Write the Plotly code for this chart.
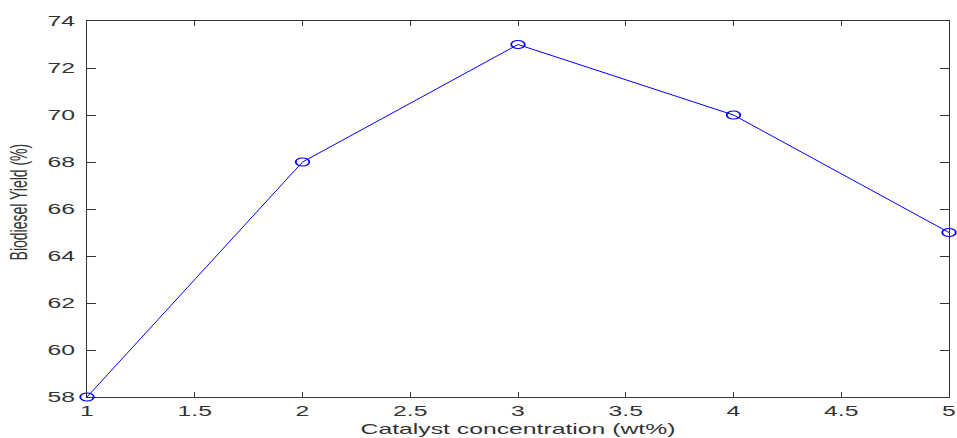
import plotly.graph_objects as go

# Catalyst loading vs. biodiesel yield
catalyst_wt = [1, 2, 3, 4, 5]
yield_pct = [58, 68, 73, 70, 65]

x_ticks = [1, 1.5, 2, 2.5, 3, 3.5, 4, 4.5, 5]
y_ticks = [58, 60, 62, 64, 66, 68, 70, 72, 74]

AXIS_COLOR = "#333333"
FONT_FAMILY = "Liberation Sans, Arial, sans-serif"

fig = go.Figure(
    go.Scatter(
        x=catalyst_wt,
        y=yield_pct,
        mode="lines+markers",
        line=dict(color="#0000FF", width=1),
        marker=dict(symbol="circle-open", size=8, color="#0000FF", line=dict(width=1.1)),
        cliponaxis=False,
    )
)

fig.update_layout(
    width=957,
    height=438,
    margin=dict(l=87, r=8, t=21, b=41, autoexpand=False),
    paper_bgcolor="white",
    plot_bgcolor="white",
    showlegend=False,
    font=dict(family=FONT_FAMILY, size=15, color=AXIS_COLOR),
)

fig.update_xaxes(
    range=[1, 5],
    tickvals=x_ticks,
    ticktext=[f"{v:g}" for v in x_ticks],
    ticks="inside",
    ticklen=5,
    tickcolor=AXIS_COLOR,
    showline=True,
    linecolor=AXIS_COLOR,
    linewidth=1,
    mirror="ticks",
    showgrid=False,
    zeroline=False,
    automargin=False,
    title=dict(text="Catalyst concentration (wt%)", font=dict(size=15), standoff=5),
    tickfont=dict(size=15),
)

fig.update_yaxes(
    range=[58, 74],
    tickvals=y_ticks,
    ticktext=[str(v) for v in y_ticks],
    ticks="inside",
    ticklen=9,
    tickcolor=AXIS_COLOR,
    showline=True,
    linecolor=AXIS_COLOR,
    linewidth=1,
    mirror="ticks",
    showgrid=False,
    zeroline=False,
    automargin=False,
    ticklabelstandoff=8,
    tickfont=dict(size=15),
)

# Y-axis title, placed slightly above the vertical middle of the axis
fig.add_annotation(
    text="Biodiesel Yield (%)",
    textangle=-90,
    xref="paper", yref="paper",
    x=-0.0789, y=0.52,
    xanchor="center", yanchor="middle",
    showarrow=False,
    font=dict(size=14, color=AXIS_COLOR),
)

# Widen the text and markers horizontally (wide-aspect rendering of the figure)
stretch_js = """
var gd = document.getElementById('{plot_id}');
var SX = 1.65;
var svg = gd.querySelector('.main-svg');
function toParent(el, x, y) {
  var p = svg.createSVGPoint();
  p.x = x; p.y = y;
  return p.matrixTransform(el.parentNode.getScreenCTM().inverse());
}
gd.querySelectorAll('.xtick text, .ytick text, .g-xtitle text').forEach(function (t) {
  var r = t.getBoundingClientRect();
  var ax = t.closest('.ytick') ? r.right : r.left + r.width / 2;
  var ay = r.top + r.height / 2;
  var p = toParent(t, ax, ay);
  var prev = t.getAttribute('transform') || '';
  t.setAttribute('transform',
    'translate(' + p.x + ',' + p.y + ') scale(' + SX + ',1) translate(' + (-p.x) + ',' + (-p.y) + ') ' + prev);
});
// rotated annotation: screen-x corresponds to the text's local y direction
gd.querySelectorAll('.annotation-text').forEach(function (t) {
  var bb = t.getBBox();
  var cx = bb.x + bb.width / 2, cy = bb.y + bb.height / 2;
  var prev = t.getAttribute('transform') || '';
  t.setAttribute('transform',
    prev + ' translate(' + cx + ',' + cy + ') scale(1,' + SX + ') translate(' + (-cx) + ',' + (-cy) + ')');
});
gd.querySelectorAll('.scatterlayer path.point').forEach(function (m) {
  var prev = m.getAttribute('transform') || '';
  m.setAttribute('transform', prev + ' scale(1.7,1)');
});
"""

fig.write_html("out.html", post_script=stretch_js)
